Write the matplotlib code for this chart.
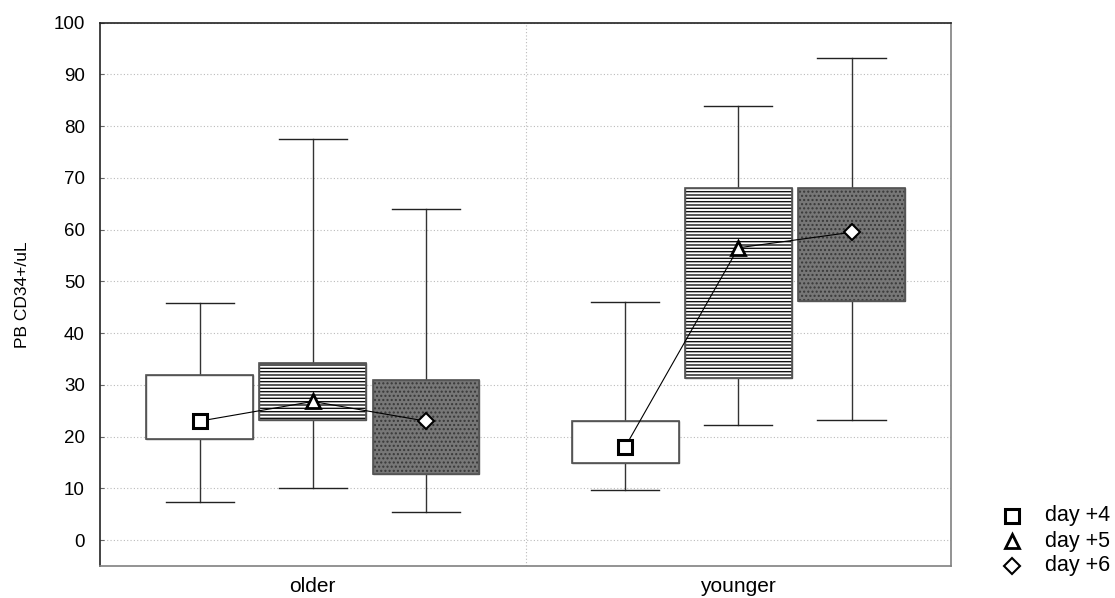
import matplotlib
matplotlib.use("Agg")
import matplotlib.pyplot as plt
from matplotlib.lines import Line2D

plt.rcParams["font.family"] = ["Liberation Sans", "DejaVu Sans"]
plt.rcParams["hatch.linewidth"] = 1.0

groups = ["older", "younger"]
days = ["day +4", "day +5", "day +6"]

# per group, per day: whisker low, box low, centre, box high, whisker high
whisker_low = [[7.3, 10.0, 5.5], [9.6, 22.3, 23.2]]
box_low = [[19.6, 23.2, 12.7], [15.0, 31.3, 46.3]]
centre = [[23.0, 26.8, 23.0], [18.0, 56.5, 59.5]]
box_high = [[32.0, 34.3, 31.0], [23.0, 68.0, 68.0]]
whisker_high = [[45.9, 77.5, 64.0], [46.0, 84.0, 93.2]]

y_ticks = [0, 10, 20, 30, 40, 50, 60, 70, 80, 90, 100]

offsets = [-0.266, 0.0, 0.266]
box_w = 0.251
cap_w = 0.16
box_styles = [
    dict(facecolor="white", hatch=None, hatch_color="black"),
    dict(facecolor="white", hatch="-----", hatch_color="#111111"),
    dict(facecolor="#777777", hatch="....", hatch_color="#383838"),
]
markers = ["s", "^", "D"]
marker_sizes = [10, 10, 8]
marker_edges = [2.2, 2.0, 1.5]

fig = plt.figure(figsize=(11.15, 5.98), dpi=100)
ax = fig.add_axes([0.0897, 0.0535, 0.7633, 0.9085])

for gi, g in enumerate(groups):
    xs = []
    for di in range(3):
        x = gi + offsets[di]
        xs.append(x)
        st = box_styles[di]
        # whiskers and caps
        ax.plot([x, x], [box_high[gi][di], whisker_high[gi][di]], color="#333333", lw=1.0, zorder=2)
        ax.plot([x, x], [whisker_low[gi][di], box_low[gi][di]], color="#333333", lw=1.0, zorder=2)
        for yv in (whisker_low[gi][di], whisker_high[gi][di]):
            ax.plot([x - cap_w / 2, x + cap_w / 2], [yv, yv], color="#222222", lw=1.0, zorder=2)
        # box with its fill pattern, then a crisp outline on top
        rect = plt.Rectangle((x - box_w / 2, box_low[gi][di]), box_w,
                             box_high[gi][di] - box_low[gi][di],
                             facecolor=st["facecolor"], edgecolor="#555555",
                             hatch=st["hatch"], lw=1.0, zorder=3)
        rect._hatch_color = matplotlib.colors.to_rgba(st["hatch_color"])
        ax.add_patch(rect)
        rect2 = plt.Rectangle((x - box_w / 2, box_low[gi][di]), box_w,
                              box_high[gi][di] - box_low[gi][di],
                              facecolor="none", edgecolor="#555555", lw=1.2, zorder=3.5)
        ax.add_patch(rect2)
    ax.plot(xs, centre[gi], color="black", lw=0.8, zorder=4)
    for di in range(3):
        ax.plot(xs[di], centre[gi][di], marker=markers[di], ms=marker_sizes[di],
                mfc="white", mec="black", mew=marker_edges[di], ls="none", zorder=5)

ax.set_xlim(-0.5, 1.5)
ax.set_ylim(-5, 100)
ax.set_yticks(y_ticks)
ax.set_yticklabels([str(v) for v in y_ticks], fontsize=13.5)
ax.set_xticks([0, 1])
ax.set_xticklabels(groups, fontsize=15)
ax.tick_params(axis="x", length=0, pad=8)
ax.tick_params(axis="y", length=3, direction="in", color="#666666", pad=11)
ax.set_ylabel("PB CD34+/uL", fontsize=12.5, labelpad=17)

for yv in y_ticks:
    ax.axhline(yv, color="#bbbbbb", lw=0.8, ls=(0, (1, 2)), zorder=1)
ax.axvline(0.5, color="#bbbbbb", lw=0.8, ls=(0, (1, 2)), zorder=1)

for side in ["left", "top"]:
    ax.spines[side].set_color("#222222")
for side in ["right", "bottom"]:
    ax.spines[side].set_color("#808080")
for s in ax.spines.values():
    s.set_linewidth(1.2)

# legend drawn in figure pixel space, to the right of the plot area
W, H = 1115, 598
leg_x_marker, leg_x_text = 1012, 1045
leg_rows = [516, 541, 566]
for i in range(3):
    yf = 1 - leg_rows[i] / H
    fig.add_artist(Line2D([leg_x_marker / W], [yf], marker=markers[i], ms=marker_sizes[i],
                          mfc="white", mec="black", mew=marker_edges[i], ls="none",
                          transform=fig.transFigure))
    fig.text(leg_x_text / W, yf, days[i], fontsize=15.5, va="center", ha="left")

fig.savefig("out.png", dpi=100)
